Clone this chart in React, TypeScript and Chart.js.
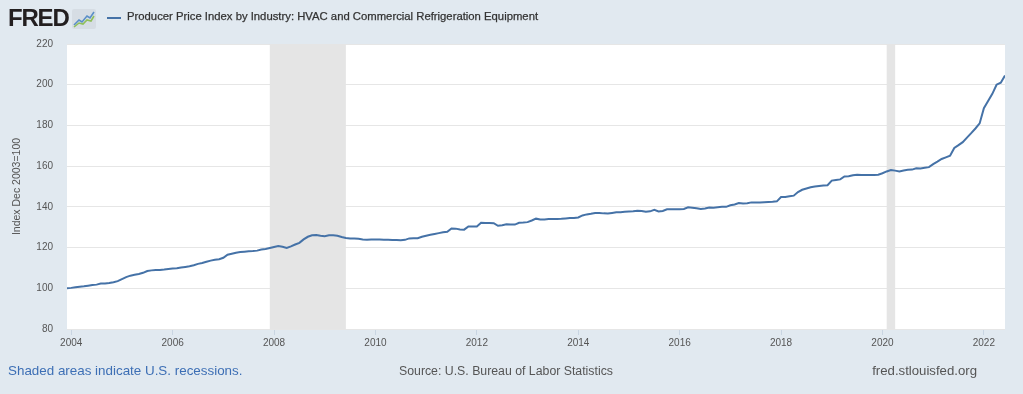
import React, { useEffect, useRef } from "react";
import { Chart, registerables } from "chart.js";

Chart.register(...registerables);

// ---- Data (monthly, Index Dec 2003 = 100) ----
const startYear = 2003;
const startMonth = 12;
const ppi2003 = [100.0];
const ppi2004 = [100.2, 100.5, 100.8, 101.0, 101.3, 101.6, 101.8, 102.3, 102.4, 102.6, 103.0, 103.5];
const ppi2005 = [104.5, 105.5, 106.2, 106.6, 107.0, 107.6, 108.5, 108.8, 109.0, 109.0, 109.2, 109.5];
const ppi2006 = [109.7, 109.8, 110.2, 110.5, 110.8, 111.3, 112.0, 112.4, 113.0, 113.6, 114.0, 114.3];
const ppi2007 = [115.0, 116.5, 117.0, 117.5, 117.8, 118.0, 118.2, 118.3, 118.5, 119.0, 119.3, 119.8];
const ppi2008 = [120.3, 120.8, 120.4, 119.8, 120.6, 121.5, 122.3, 124.0, 125.3, 126.0, 126.2, 125.8];
const ppi2009 = [125.6, 126.0, 126.0, 125.8, 125.2, 124.7, 124.5, 124.5, 124.3, 124.0, 123.9, 124.0];
const ppi2010 = [124.0, 124.0, 123.9, 123.8, 123.7, 123.7, 123.6, 123.8, 124.5, 124.6, 124.6, 125.3];
const ppi2011 = [125.8, 126.3, 126.7, 127.1, 127.5, 127.8, 129.4, 129.3, 128.9, 128.8, 130.4, 130.4];
const ppi2012 = [130.4, 132.2, 132.1, 132.1, 132.0, 130.7, 131.0, 131.4, 131.3, 131.3, 132.2, 132.3];
const ppi2013 = [132.5, 133.3, 134.2, 133.8, 133.8, 134.0, 134.0, 134.0, 134.1, 134.3, 134.5, 134.5];
const ppi2014 = [134.8, 135.8, 136.3, 136.6, 137.0, 137.0, 136.8, 136.7, 137.0, 137.3, 137.4, 137.6];
const ppi2015 = [137.7, 137.8, 138.1, 138.0, 137.6, 137.8, 138.5, 137.7, 138.0, 138.8, 138.8, 138.8];
const ppi2016 = [138.8, 139.0, 139.8, 139.6, 139.3, 139.0, 139.2, 139.7, 139.6, 139.8, 140.0, 140.0];
const ppi2017 = [140.8, 141.2, 141.9, 141.6, 141.8, 142.2, 142.2, 142.2, 142.3, 142.4, 142.5, 142.7];
const ppi2018 = [144.8, 144.9, 145.2, 145.5, 147.3, 148.4, 149.0, 149.6, 150.0, 150.3, 150.5, 150.6];
const ppi2019 = [152.9, 153.2, 153.5, 154.9, 155.0, 155.5, 155.8, 155.6, 155.7, 155.6, 155.6, 155.8];
const ppi2020 = [156.5, 157.4, 158.1, 157.8, 157.4, 157.9, 158.2, 158.3, 159.0, 158.9, 159.2, 159.5];
const ppi2021 = [161.0, 162.2, 163.5, 164.3, 165.1, 168.9, 170.3, 171.8, 174.0, 176.2, 178.5, 181.0];
const ppi2022 = [188.5, 192.0, 195.5, 200.0, 201.0, 204.5];

const seriesValues = [
  ...ppi2003, ...ppi2004, ...ppi2005, ...ppi2006, ...ppi2007, ...ppi2008,
  ...ppi2009, ...ppi2010, ...ppi2011, ...ppi2012, ...ppi2013, ...ppi2014,
  ...ppi2015, ...ppi2016, ...ppi2017, ...ppi2018, ...ppi2019, ...ppi2020,
  ...ppi2021, ...ppi2022,
];

const yTickValues = [80, 100, 120, 140, 160, 180, 200, 220];
const xTickYears = [2004, 2006, 2008, 2010, 2012, 2014, 2016, 2018, 2020, 2022];
// recessions: [startYear, startMonth, endYear, endMonth]
const recessions = [
  [2007, 12, 2009, 6],
  [2020, 2, 2020, 4],
];

const seriesTitle = "Producer Price Index by Industry: HVAC and Commercial Refrigeration Equipment";
const yAxisTitle = "Index Dec 2003=100";

const ym = (y: number, m: number) => y + (m - 1) / 12;

const FONT = "'Liberation Sans', Arial, Helvetica, sans-serif";

const backgroundPlugin = {
  id: "fredBackground",
  beforeDraw(chart: any) {
    const { ctx, chartArea } = chart;
    ctx.save();
    ctx.fillStyle = "#ffffff";
    ctx.fillRect(chartArea.left, chartArea.top, chartArea.right - chartArea.left, chartArea.bottom - chartArea.top);
    ctx.restore();
  },
  beforeDatasetsDraw(chart: any) {
    const { ctx, chartArea, scales } = chart;
    const xs = scales.x;
    ctx.save();
    ctx.fillStyle = "#e5e5e5";
    for (const r of recessions) {
      const x0 = xs.getPixelForValue(ym(r[0], r[1]));
      const x1 = xs.getPixelForValue(ym(r[2], r[3]));
      ctx.fillRect(x0, chartArea.top, x1 - x0, chartArea.bottom - chartArea.top);
    }
    ctx.restore();
  },
};

function FredLogo() {
  return (
    <div style={{ position: "absolute", left: 8, top: 5, display: "flex", alignItems: "center" }}>
      <span
        style={{
          fontFamily: FONT,
          fontWeight: 900,
          fontSize: 24,
          letterSpacing: -1.2,
          color: "#231f20",
          lineHeight: "26px",
        }}
      >
        FRED
      </span>
      <svg width="24" height="20" viewBox="0 0 24 20" style={{ marginLeft: 3, marginTop: 2 }}>
        <rect x="0" y="0" width="24" height="20" rx="2" fill="#d6dde4" />
        <polyline points="2,16 7,11 10,13 15,7 18,9 22,3" fill="none" stroke="#5b8fc7" strokeWidth="1.6" />
        <polyline points="2,18 7,14 11,15 15,11 19,12 22,7" fill="none" stroke="#8fbf5a" strokeWidth="1.6" />
      </svg>
    </div>
  );
}

export default function App() {
  const canvasRef = useRef<HTMLCanvasElement | null>(null);

  useEffect(() => {
    if (!canvasRef.current) return;
    const points = seriesValues.map((v, i) => ({
      x: startYear + (startMonth - 1 + i) / 12,
      y: v,
    }));
    const chart = new Chart(canvasRef.current, {
      type: "line",
      data: {
        datasets: [
          {
            label: seriesTitle,
            data: points,
            borderColor: "#4572a7",
            borderWidth: 2,
            pointRadius: 0,
            tension: 0,
            fill: false,
          },
        ],
      },
      options: {
        animation: false,
        responsive: false,
        maintainAspectRatio: false,
        layout: { padding: { top: 44, right: 18, left: 0, bottom: 0 } },
        plugins: {
          legend: { display: false },
          tooltip: { enabled: false },
        },
        scales: {
          x: {
            type: "linear",
            min: ym(startYear, startMonth),
            max: startYear + (startMonth - 1 + seriesValues.length - 1) / 12,
            afterBuildTicks: (scale: any) => {
              scale.ticks = xTickYears.map((v) => ({ value: v }));
            },
            afterFit: (scale: any) => {
              scale.height = 65;
            },
            border: { display: false },
            grid: {
              display: true,
              drawOnChartArea: false,
              drawTicks: true,
              tickLength: 6,
              color: "#c9d5e2",
            },
            ticks: {
              autoSkip: false,
              maxRotation: 0,
              padding: 2,
              color: "#555555",
              font: { family: FONT, size: 10 },
              callback: (v: any) => String(v),
            },
          },
          y: {
            type: "linear",
            min: 80,
            max: 220,
            afterBuildTicks: (scale: any) => {
              scale.ticks = yTickValues.map((v) => ({ value: v }));
            },
            afterFit: (scale: any) => {
              scale.width = 67;
            },
            border: { display: false },
            grid: {
              display: true,
              drawTicks: false,
              color: "#e6e6e6",
              lineWidth: 1,
            },
            ticks: {
              padding: 14,
              color: "#555555",
              font: { family: FONT, size: 10 },
              callback: (v: any) => String(v),
            },
            title: {
              display: true,
              text: yAxisTitle,
              color: "#555555",
              font: { family: FONT, size: 10.5 },
              padding: { top: 11, bottom: 0 },
            },
          },
        },
      },
      plugins: [backgroundPlugin],
    });
    return () => chart.destroy();
  }, []);

  return (
    <div
      style={{
        position: "absolute",
        left: 0,
        top: 0,
        width: 1023,
        height: 394,
        background: "#e1e9f0",
        overflow: "hidden",
        fontFamily: FONT,
      }}
    >
      <canvas ref={canvasRef} width={1023} height={394} style={{ position: "absolute", left: 0, top: 0 }} />
      <FredLogo />
      <div style={{ position: "absolute", left: 107, top: 17, width: 14, height: 2, background: "#4572a7" }} />
      <div
        style={{
          position: "absolute",
          left: 127,
          top: 10,
          fontSize: 11.3,
          color: "#333333",
          WebkitTextStroke: "0.25px #333333",
          whiteSpace: "nowrap",
        }}
      >
        {seriesTitle}
      </div>
      <div style={{ position: "absolute", left: 8, top: 363, fontSize: 13.4, color: "#3d6fb5", whiteSpace: "nowrap" }}>
        Shaded areas indicate U.S. recessions.
      </div>
      <div style={{ position: "absolute", left: 399, top: 364, fontSize: 12.3, color: "#555555", whiteSpace: "nowrap" }}>
        Source: U.S. Bureau of Labor Statistics
      </div>
      <div style={{ position: "absolute", right: 46, top: 363, fontSize: 13.2, color: "#555555", whiteSpace: "nowrap" }}>
        fred.stlouisfed.org
      </div>
    </div>
  );
}
